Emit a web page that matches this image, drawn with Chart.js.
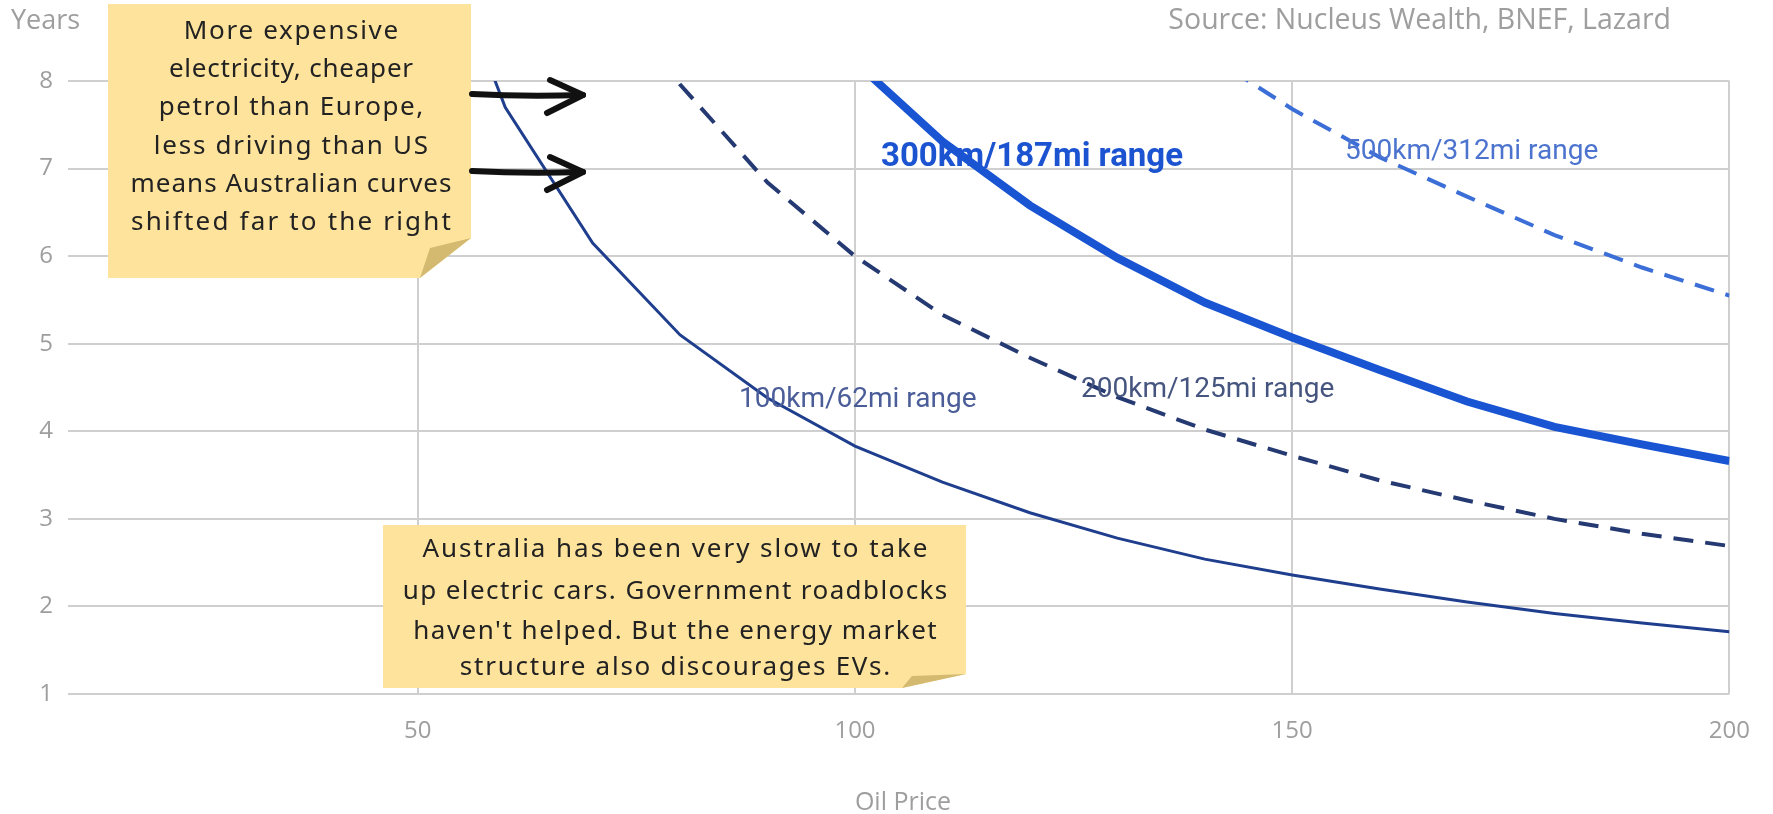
<!DOCTYPE html>
<html>
<head>
<meta charset="utf-8">
<script src="https://cdn.jsdelivr.net/npm/chart.js@4.4.1/dist/chart.umd.min.js"></script>
<style>
  html, body { margin: 0; padding: 0; background: #fff; }
  #wrap { width: 1773px; height: 814px; position: relative; }
</style>
</head>
<body>
<div id="wrap"><canvas id="chart"></canvas></div>
<script>
// oil price (x) and payback years per battery range
const oilPrice = [50, 60, 70, 80, 90, 100, 110, 120, 130, 140, 150, 160, 170, 180, 190, 200];
const range100 = [10.3, 7.7, 6.15, 5.1, 4.38, 3.83, 3.42, 3.07, 2.78, 2.54, 2.36, 2.2, 2.05, 1.92, 1.81, 1.71];
const range200 = [null, null, 9.5, 7.96, 6.84, 6.0, 5.33, 4.84, 4.39, 4.02, 3.72, 3.44, 3.21, 3.0, 2.83, 2.69];
const range300 = [null, null, null, null, null, 8.22, 7.31, 6.58, 5.98, 5.47, 5.07, 4.7, 4.34, 4.05, 3.85, 3.66];
const range500 = [null, null, null, null, null, null, null, null, null, 8.32, 7.68, 7.13, 6.68, 6.24, 5.87, 5.55];

const xTicks = [50, 100, 150, 200];
const yTicks = [1, 2, 3, 4, 5, 6, 7, 8];

const seriesNames = ['100km/62mi range', '200km/125mi range', '300km/187mi range', '500km/312mi range'];

const note1 = ['More expensive', 'electricity, cheaper', 'petrol than Europe,', 'less driving than US', 'means Australian curves', 'shifted far to the right'];
const note2 = ['Australia has been very slow to take', 'up electric cars. Government roadblocks', "haven't helped. But the energy market", 'structure also discourages EVs.'];

function toPoints(ys) {
    return oilPrice.map((x, i) => ({ x: x, y: ys[i] }));
}

const grey = '#9e9e9e';
const gridColor = '#cfcfcf';

// spread a line of note text out to the width it has in the picture
function fitLine(ctx, text, cx, y, target) {
    ctx.letterSpacing = '0px';
    const w = ctx.measureText(text).width;
    const ls = Math.max(0, (target - w) / text.length);
    ctx.letterSpacing = ls + 'px';
    ctx.fillText(text, cx + ls / 2, y);
    ctx.letterSpacing = '0px';
}

const extras = {
    id: 'extras',
    afterDraw(chart) {
        const ctx = chart.ctx;
        ctx.save();

        // axis titles + source
        ctx.fillStyle = grey;
        ctx.textBaseline = 'middle';
        ctx.font = '27px "Open Sans"';
        ctx.textAlign = 'left';
        ctx.fillText('Years', 11, 21);
        ctx.font = '28.5px "Open Sans"';
        ctx.textAlign = 'right';
        ctx.fillText('Source: Nucleus Wealth, BNEF, Lazard', 1671, 21);
        ctx.font = '25px "Open Sans"';
        ctx.textAlign = 'center';
        ctx.fillText('Oil Price', 903, 803);

        // series labels
        ctx.textAlign = 'left';
        ctx.textBaseline = 'alphabetic';
        ctx.font = '28px Roboto';
        ctx.fillStyle = '#4a5d98';
        ctx.fillText(seriesNames[0], 739, 407);
        ctx.fillStyle = '#46557f';
        ctx.fillText(seriesNames[1], 1081, 397);
        ctx.fillStyle = '#4c74cf';
        ctx.fillText(seriesNames[3], 1345, 159);
        ctx.font = 'bold 33px Roboto';
        ctx.fillStyle = '#1b53d0';
        ctx.fillText(seriesNames[2], 881, 166);

        // sticky note 1
        ctx.fillStyle = '#fde39c';
        ctx.beginPath();
        ctx.moveTo(108, 4); ctx.lineTo(471, 4); ctx.lineTo(471, 238);
        ctx.lineTo(420, 278); ctx.lineTo(108, 278); ctx.closePath();
        ctx.fill();
        ctx.fillStyle = '#d4b970';
        ctx.beginPath();
        ctx.moveTo(420, 278); ctx.lineTo(471, 238); ctx.lineTo(430, 248); ctx.closePath();
        ctx.fill();

        // sticky note 2
        ctx.fillStyle = '#fde39c';
        ctx.beginPath();
        ctx.moveTo(383, 525); ctx.lineTo(966, 525); ctx.lineTo(966, 674);
        ctx.lineTo(902, 688); ctx.lineTo(383, 688); ctx.closePath();
        ctx.fill();
        ctx.fillStyle = '#d4b970';
        ctx.beginPath();
        ctx.moveTo(902, 688); ctx.lineTo(966, 674); ctx.lineTo(912, 676); ctx.closePath();
        ctx.fill();

        ctx.fillStyle = '#222';
        ctx.textAlign = 'center';
        ctx.textBaseline = 'middle';
        ctx.font = '26px "Noto Sans"';
        const w1 = [216, 245, 266, 276, 322, 322];
        const y1 = [32, 70, 108, 147, 185, 223];
        note1.forEach((t, i) => fitLine(ctx, t, 291, y1[i], w1[i]));
        const w2 = [507, 546, 525, 432];
        const y2 = [550, 592, 632, 668];
        note2.forEach((t, i) => fitLine(ctx, t, 675, y2[i], w2[i]));

        // arrows
        ctx.strokeStyle = '#111';
        ctx.lineWidth = 6;
        ctx.lineCap = 'round';
        ctx.lineJoin = 'round';
        [[95, 80, 113], [172, 157, 190]].forEach(a => {
            ctx.beginPath();
            ctx.moveTo(472, a[0] - 1);
            ctx.quadraticCurveTo(525, a[0] + 2, 583, a[0]);
            ctx.stroke();
            ctx.beginPath();
            ctx.moveTo(550, a[1]); ctx.lineTo(583, a[0]); ctx.lineTo(547, a[2]);
            ctx.stroke();
        });

        ctx.restore();
    }
};

new Chart(document.getElementById('chart'), {
    type: 'line',
    data: {
        datasets: [
            {
                label: seriesNames[0],
                data: toPoints(range100),
                borderColor: '#1f3f8e',
                borderWidth: 3
            },
            {
                label: seriesNames[1],
                data: toPoints(range200),
                borderColor: '#253a72',
                borderWidth: 4,
                borderDash: [20, 12]
            },
            {
                label: seriesNames[2],
                data: toPoints(range300),
                borderColor: '#1955d2',
                borderWidth: 8
            },
            {
                label: seriesNames[3],
                data: toPoints(range500),
                borderColor: '#3c6ed7',
                borderWidth: 4,
                borderDash: [20, 12]
            }
        ]
    },
    options: {
        responsive: true,
        maintainAspectRatio: false,
        animation: false,
        layout: { padding: { top: 81, right: 37, left: 0, bottom: 0 } },
        elements: {
            point: { radius: 0 },
            line: { tension: 0, fill: false }
        },
        plugins: {
            legend: { display: false },
            tooltip: { enabled: false }
        },
        scales: {
            x: {
                type: 'linear',
                min: 10,
                max: 200,
                afterBuildTicks: s => { s.ticks = xTicks.map(v => ({ value: v })); },
                afterFit: s => { s.height = 120; },
                grid: { color: gridColor, lineWidth: 2, drawTicks: false },
                border: { display: false },
                ticks: {
                    padding: 23,
                    color: grey,
                    font: { size: 24, family: "'Open Sans', sans-serif" }
                }
            },
            y: {
                min: 1,
                max: 8,
                afterBuildTicks: s => { s.ticks = yTicks.map(v => ({ value: v })); },
                afterFit: s => { s.width = 68; },
                grid: { color: gridColor, lineWidth: 2, drawTicks: false },
                border: { display: false },
                ticks: {
                    padding: 15,
                    color: grey,
                    font: { size: 24, family: "'Open Sans', sans-serif" }
                }
            }
        }
    },
    plugins: [extras]
});
</script>
</body>
</html>
